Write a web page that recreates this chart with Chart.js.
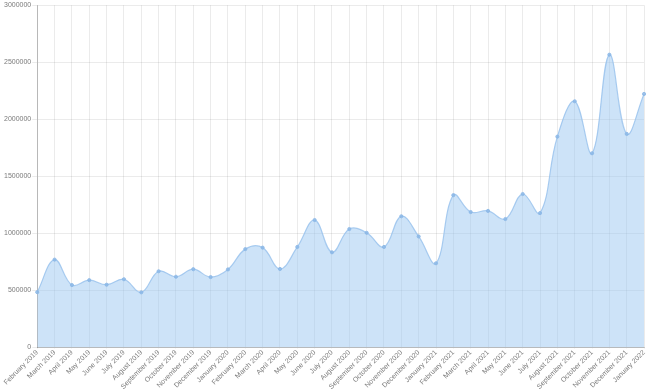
<!DOCTYPE html>
<html>
<head>
<meta charset="utf-8">
<script src="https://cdn.jsdelivr.net/npm/chart.js@4/dist/chart.umd.min.js"></script>
<style>
  html, body { margin: 0; padding: 0; background: #fff; }
  #wrap { width: 650px; height: 389px; }
</style>
</head>
<body>
<div id="wrap"><canvas id="monthlyChart"></canvas></div>
<script>
// Monthly totals, Feb 2019 - Jan 2022

const months = [
    'February 2019', 'March 2019', 'April 2019', 'May 2019', 'June 2019', 'July 2019',
    'August 2019', 'September 2019', 'October 2019', 'November 2019', 'December 2019', 'January 2020',
    'February 2020', 'March 2020', 'April 2020', 'May 2020', 'June 2020', 'July 2020',
    'August 2020', 'September 2020', 'October 2020', 'November 2020', 'December 2020', 'January 2021',
    'February 2021', 'March 2021', 'April 2021', 'May 2021', 'June 2021', 'July 2021',
    'August 2021', 'September 2021', 'October 2021', 'November 2021', 'December 2021', 'January 2022'
];

const totals = [
    485000, 770000, 547000, 590000, 550000, 598000,
    483000, 668000, 620000, 686000, 617000, 684000,
    862000, 875000, 688000, 881000, 1117000, 834000,
    1038000, 1005000, 881000, 1150000, 973000, 738000,
    1335000, 1187000, 1197000, 1126000, 1345000, 1178000,
    1848000, 2158000, 1702000, 2566000, 1872000, 2222000
];

const yMax = 3000000;
const yStep = 500000;

const colors = {
    line: 'rgba(150, 192, 236, 0.8)',
    fill: 'rgba(150, 196, 240, 0.48)',
    point: 'rgba(138, 182, 230, 0.8)',
    grid: 'rgba(0, 0, 0, 0.08)',
    axis: 'rgba(0, 0, 0, 0.22)',
    text: '#7a7a7a'
};

Chart.defaults.font.family = "'Liberation Sans', Arial, sans-serif";
Chart.defaults.font.size = 7;
Chart.defaults.color = colors.text;

const ctx = document.getElementById('monthlyChart').getContext('2d');

new Chart(ctx, {
    type: 'line',
    data: {
        labels: months,
        datasets: [{
            data: totals,
            borderColor: colors.line,
            backgroundColor: colors.fill,
            borderWidth: 1.2,
            fill: true,
            tension: 0.4,
            pointRadius: 1.6,
            pointBackgroundColor: colors.point,
            pointBorderColor: colors.point,
            pointBorderWidth: 1
        }]
    },
    options: {
        responsive: true,
        maintainAspectRatio: false,
        animation: false,
        layout: {
            padding: { top: 2, right: 5, left: 3, bottom: -2 }
        },
        plugins: {
            legend: { display: false },
            tooltip: { enabled: false }
        },
        scales: {
            x: {
                grid: {
                    color: colors.grid,
                    tickLength: 1
                },
                border: { color: colors.axis },
                ticks: {
                    autoSkip: false,
                    minRotation: 45,
                    maxRotation: 45,
                    padding: 0
                }
            },
            y: {
                min: 0,
                max: yMax,
                grid: {
                    color: colors.grid,
                    tickLength: 5
                },
                border: { color: colors.axis },
                ticks: {
                    stepSize: yStep,
                    padding: 1,
                    callback: value => String(value)
                }
            }
        }
    }
});
</script>
</body>
</html>
